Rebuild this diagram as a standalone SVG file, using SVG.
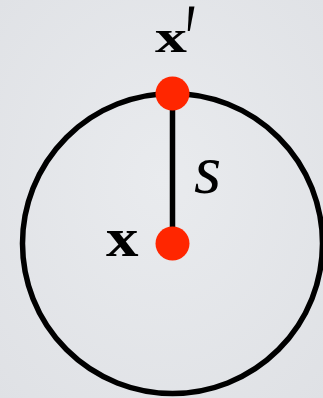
<svg xmlns="http://www.w3.org/2000/svg" width="323" height="398" viewBox="0 0 323 398">
<defs>
<radialGradient id="bg" cx="0.5" cy="0.45" r="0.75">
<stop offset="0" stop-color="#e9ebee"/>
<stop offset="1" stop-color="#dfe1e5"/>
</radialGradient>
<style>
.lbl{font-family:"Liberation Serif","DejaVu Serif",serif;fill:#000}
.bold{font-weight:bold}
.dot{fill:#ff2600}
</style>
</defs>
<rect width="323" height="398" fill="url(#bg)"/>
<g id="circle">
<circle cx="172.5" cy="243.5" r="150" fill="none" stroke="#000" stroke-width="5.5"/>
</g>
<g id="connectors">
<line x1="172.5" y1="93.5" x2="172.5" y2="243.5" stroke="#000" stroke-width="5.5"/>
</g>
<g id="node-xprime">
<circle class="dot" cx="172.5" cy="93.5" r="17"/>
<text class="lbl bold" x="0" y="0" font-size="58" transform="translate(155,52) scale(1.1,0.8)">x</text>
<text class="lbl" x="0" y="0" font-size="40" font-family="DejaVu Serif" transform="translate(185,75) scale(1.4,2.6)">′</text>
</g>
<g id="node-x">
<circle class="dot" cx="172.5" cy="243.5" r="17"/>
<text class="lbl bold" x="0" y="0" font-size="58" transform="translate(106,256) scale(1.12,0.95)">x</text>
</g>
<g id="label-s">
<text class="lbl" x="194" y="193" font-size="70" font-style="italic">s</text>
</g>
</svg>
